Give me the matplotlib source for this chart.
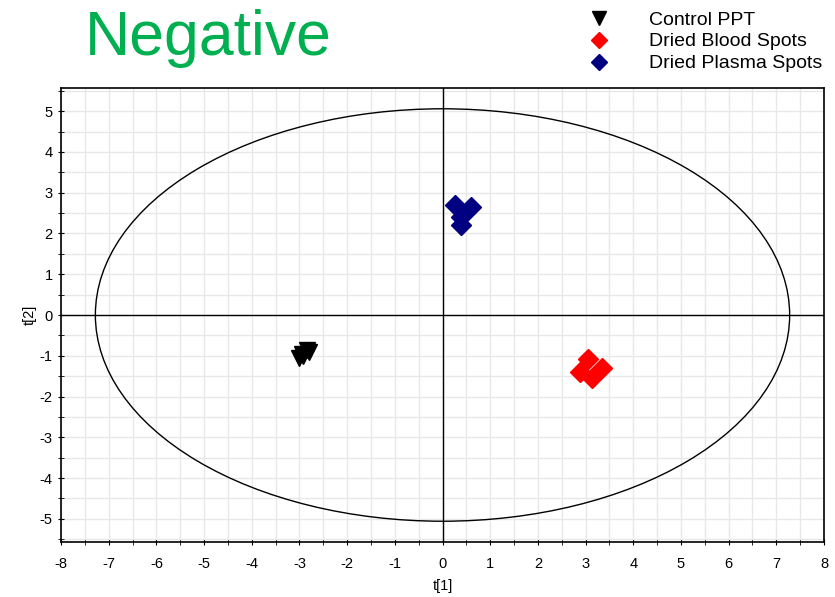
import numpy as np
import matplotlib.pyplot as plt
from matplotlib.patches import Ellipse
from matplotlib.lines import Line2D
from matplotlib.ticker import MultipleLocator

plt.rcParams['font.family'] = ['Liberation Sans', 'DejaVu Sans']
plt.rcParams['axes.unicode_minus'] = False

# Scores
ctrl_t1 = [-2.95, -2.85, -2.80, -2.92, -3.00]
ctrl_t2 = [-0.95, -0.85, -0.90, -1.00, -1.05]
dbs_t1 = [3.06, 3.35, 2.89, 3.14]
dbs_t2 = [-1.09, -1.29, -1.41, -1.54]
dps_t1 = [0.27, 0.59, 0.38, 0.38]
dps_t2 = [2.71, 2.64, 2.40, 2.22]

# Hotelling T2 ellipse half axes
ell_a = 7.28
ell_b = 5.06

fig = plt.figure(figsize=(8.35, 5.97), dpi=100)
ax = fig.add_axes([0.0731, 0.0921, 0.9137, 0.7605])

ax.set_xlim(-8, 8)
ax.set_ylim(-5.57, 5.57)
ax.xaxis.set_major_locator(MultipleLocator(1))
ax.yaxis.set_major_locator(MultipleLocator(1))
ax.xaxis.set_minor_locator(MultipleLocator(0.5))
ax.yaxis.set_minor_locator(MultipleLocator(0.5))
ax.grid(True, which='both', color='#e8e8e8', lw=1)
ax.set_axisbelow(True)
ax.tick_params(which='both', direction='inout', labelsize=10.5, top=False, right=False)
ax.tick_params(which='major', length=5)
ax.tick_params(which='minor', length=4)
ax.tick_params(axis='x', which='major', pad=8)
for sp in ax.spines.values():
    sp.set_linewidth(1.2)

ax.axhline(0, color='black', lw=1)
ax.axvline(0, color='black', lw=1)
ax.add_patch(Ellipse((0, 0), 2*ell_a, 2*ell_b, fill=False, color='black', lw=1))

ax.plot(ctrl_t1, ctrl_t2, 'v', color='black', ms=12, ls='none')
ax.plot(dbs_t1, dbs_t2, 'D', color='#ff0000', ms=10, ls='none')
ax.plot(dps_t1, dps_t2, 'D', color='#000080', ms=10, ls='none')

ax.set_xlabel('t[1]', fontsize=10.5, labelpad=6)
ax.set_ylabel('t[2]', fontsize=10.5, labelpad=2)

fig.text(0.102, 0.935, 'Negative', color='#00b050', fontsize=45, va='center', ha='left')

handles = [Line2D([], [], marker='v', color='black', ms=10, ls='none'),
           Line2D([], [], marker='D', color='#ff0000', ms=8, ls='none'),
           Line2D([], [], marker='D', color='#000080', ms=8, ls='none')]
labels = ['Control PPT', 'Dried Blood Spots', 'Dried Plasma Spots']
fig.legend(handles, labels, loc='upper right', bbox_to_anchor=(1.006, 1.011),
           frameon=False, fontsize=14, handletextpad=1.6, labelspacing=0.22,
           borderaxespad=0.5)

plt.savefig('out.png')
